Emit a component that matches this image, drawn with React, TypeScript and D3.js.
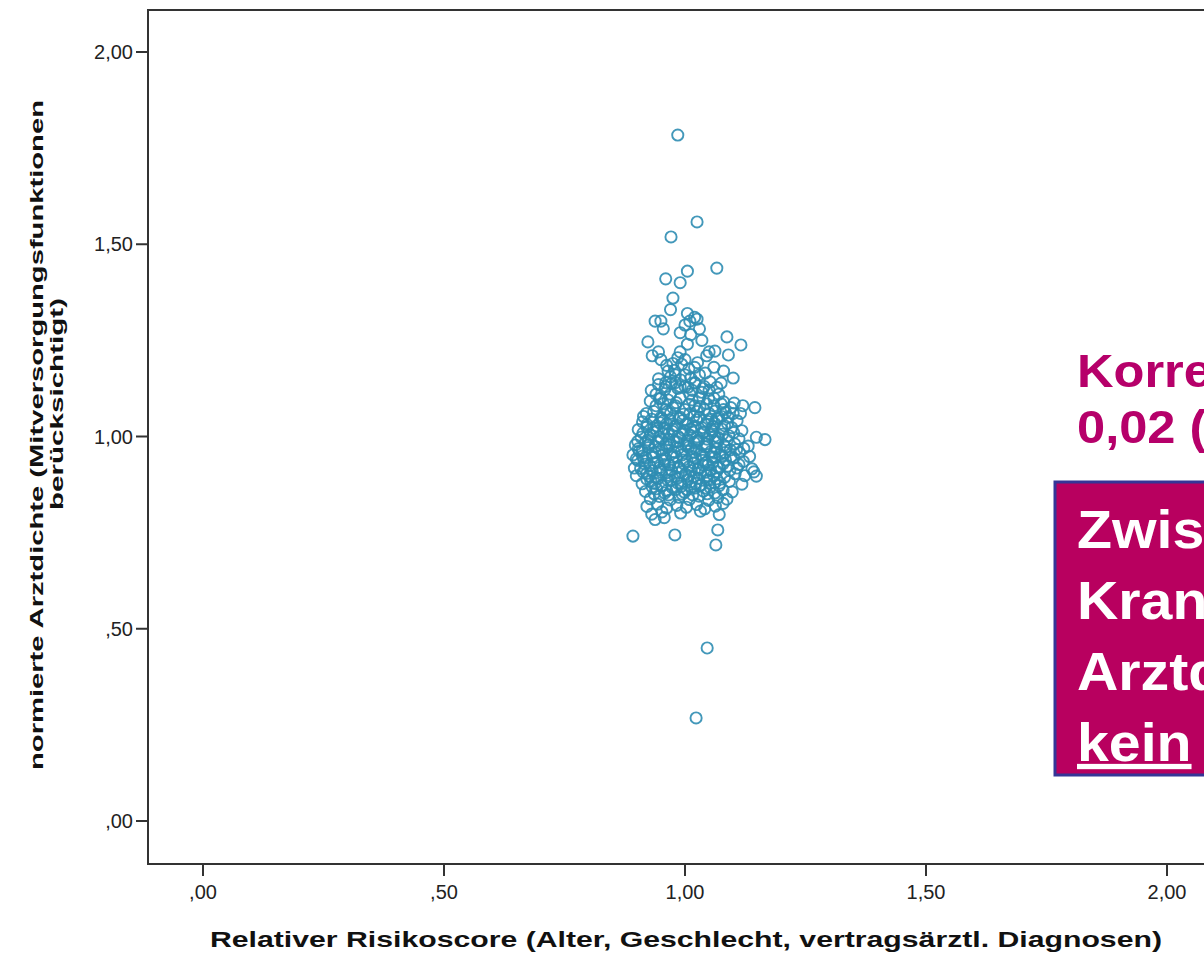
import * as d3 from 'd3';

// x = Relativer Risikoscore, y = normierte Arztdichte
const outliers: [number, number][] = [
  [0.985, 1.784], [1.025, 1.558], [0.971, 1.519], [1.066, 1.438],
  [0.892, 0.741], [0.979, 0.744], [1.064, 0.718], [1.068, 0.757],
  [1.046, 0.45], [1.023, 0.268],
];

const upperTail: [number, number][] = [
  [1.005, 1.43], [0.96, 1.41], [0.99, 1.40], [0.975, 1.36], [0.97, 1.33], [0.95, 1.30],
  [1.005, 1.32], [1.02, 1.31], [1.03, 1.28], [1.087, 1.259], [1.116, 1.238], [1.062, 1.222],
  [0.938, 1.30], [0.923, 1.246], [0.955, 1.28], [0.99, 1.27], [1.0, 1.29], [1.01, 1.30],
  [1.025, 1.305], [1.045, 1.21], [1.09, 1.212], [0.932, 1.21], [0.95, 1.20], [0.945, 1.22],
  [0.99, 1.22], [1.005, 1.24], [1.035, 1.25], [1.05, 1.22], [1.08, 1.17], [1.10, 1.152],
  [1.075, 1.139], [1.06, 1.18], [0.965, 1.17], [0.98, 1.16], [0.975, 1.19], [1.0, 1.20],
  [1.02, 1.18], [1.03, 1.16], [0.945, 1.15], [0.96, 1.14], [1.0, 1.16], [0.99, 1.13],
  [1.015, 1.12], [0.985, 1.205], [1.012, 1.265],
];

const middleBand: [number, number][] = [
  [0.93, 1.12], [0.95, 1.10], [0.97, 1.11], [0.99, 1.10], [1.01, 1.11], [1.03, 1.10],
  [1.05, 1.12], [1.07, 1.11], [0.94, 1.08], [0.96, 1.07], [0.98, 1.08], [1.00, 1.07],
  [1.02, 1.08], [1.04, 1.07], [1.06, 1.08], [1.08, 1.07], [1.10, 1.06], [0.92, 1.06],
  [0.95, 1.05], [0.97, 1.06], [0.99, 1.05], [1.01, 1.06], [1.03, 1.05], [1.05, 1.06],
  [1.07, 1.05], [1.09, 1.05], [0.96, 1.13], [0.98, 1.14], [1.00, 1.13], [1.02, 1.14],
  [1.04, 1.13], [0.94, 1.11], [1.06, 1.10], [1.08, 1.09], [0.985, 1.125], [1.015, 1.095],
  [0.965, 1.095], [1.035, 1.115], [0.955, 1.085], [1.045, 1.085], [1.075, 1.085],
  [1.095, 1.075], [0.935, 1.065], [0.975, 1.075], [1.025, 1.065], [1.055, 1.045],
  [1.115, 1.06], [1.12, 1.08], [1.145, 1.075],
];

const coreRows: [number, number][] = [
  [0.912, 1.038], [0.931, 1.045], [0.948, 1.036], [0.969, 1.042], [0.987, 1.047], [1.006, 1.035],
  [1.024, 1.043], [1.047, 1.039], [1.066, 1.046], [1.088, 1.034], [1.108, 1.041],
  [0.903, 1.018], [0.921, 1.025], [0.942, 1.014], [0.958, 1.022], [0.979, 1.027], [0.998, 1.016],
  [1.017, 1.024], [1.039, 1.012], [1.058, 1.026], [1.077, 1.019], [1.097, 1.023], [1.118, 1.015],
  [0.909, 0.998], [0.928, 1.004], [0.951, 0.993], [0.966, 1.007], [0.989, 0.996], [1.011, 1.003],
  [1.028, 0.991], [1.052, 1.005], [1.069, 0.997], [1.091, 1.002], [1.112, 0.994], [1.148, 0.998],
  [1.166, 0.992],
  [0.897, 0.978], [0.918, 0.985], [0.938, 0.974], [0.961, 0.982], [0.977, 0.987], [1.002, 0.976],
  [1.019, 0.984], [1.041, 0.973], [1.063, 0.986], [1.081, 0.977], [1.103, 0.981], [1.131, 0.975],
  [0.892, 0.952], [0.911, 0.963], [0.932, 0.957], [0.952, 0.966], [0.971, 0.954], [0.993, 0.962],
  [1.013, 0.968], [1.031, 0.955], [1.054, 0.961], [1.072, 0.953], [1.094, 0.965], [1.113, 0.958],
  [0.902, 0.938], [0.919, 0.945], [0.943, 0.934], [0.959, 0.942], [0.982, 0.947], [1.004, 0.936],
  [1.022, 0.943], [1.043, 0.932], [1.061, 0.946], [1.084, 0.939], [1.101, 0.944], [1.121, 0.935],
  [0.908, 0.917], [0.927, 0.924], [0.949, 0.913], [0.968, 0.926], [0.988, 0.918], [1.009, 0.922],
  [1.027, 0.914], [1.048, 0.927], [1.071, 0.919], [1.089, 0.923], [1.139, 0.916],
  [0.899, 0.898], [0.921, 0.904], [0.939, 0.893], [0.962, 0.906], [0.979, 0.897], [1.001, 0.902],
  [1.018, 0.895], [1.042, 0.907], [1.059, 0.899], [1.082, 0.894], [1.104, 0.903], [1.148, 0.897],
  [0.911, 0.877], [0.929, 0.884], [0.953, 0.873], [0.971, 0.886], [0.991, 0.878], [1.012, 0.882],
  [1.033, 0.874], [1.051, 0.887], [1.073, 0.879], [1.092, 0.883], [1.118, 0.876],
  [0.918, 0.857], [0.941, 0.864], [0.958, 0.853], [0.981, 0.862], [0.999, 0.855], [1.021, 0.866],
  [1.038, 0.858], [1.062, 0.853], [1.079, 0.861], [1.098, 0.856],
  [0.928, 0.838], [0.947, 0.844], [0.969, 0.835], [0.988, 0.842], [1.009, 0.836], [1.029, 0.845],
  [1.049, 0.834], [1.068, 0.841], [1.087, 0.837],
  [0.921, 0.818], [0.943, 0.824], [0.962, 0.814], [0.983, 0.821], [1.003, 0.816], [1.024, 0.823],
  [1.041, 0.812], [1.063, 0.819], [1.079, 0.826],
  [0.931, 0.798], [0.952, 0.804], [0.991, 0.801], [1.032, 0.806], [1.071, 0.797],
  [0.938, 0.784], [0.957, 0.789],
];

const coreFill: [number, number][] = [
  [0.921, 1.031], [0.941, 1.028], [0.962, 1.033], [0.983, 1.029], [1.002, 1.032], [1.021, 1.027],
  [1.043, 1.031], [1.062, 1.034], [1.082, 1.028],
  [0.913, 1.009], [0.934, 1.012], [0.956, 1.008], [0.974, 1.013], [0.995, 1.007], [1.016, 1.011],
  [1.037, 1.009], [1.057, 1.013], [1.078, 1.006], [1.101, 1.01],
  [0.902, 0.987], [0.923, 0.991], [0.944, 0.988], [0.966, 0.992], [0.984, 0.986], [1.006, 0.99],
  [1.027, 0.988], [1.046, 0.993], [1.068, 0.987], [1.088, 0.991],
  [0.903, 0.968], [0.924, 0.971], [0.946, 0.967], [0.963, 0.973], [0.986, 0.969], [1.007, 0.972],
  [1.024, 0.966], [1.045, 0.974], [1.066, 0.968], [1.085, 0.972], [1.122, 0.969],
  [0.912, 0.949], [0.933, 0.947], [0.953, 0.951], [0.975, 0.946], [0.994, 0.952], [1.014, 0.948],
  [1.036, 0.951], [1.056, 0.947], [1.077, 0.95], [1.096, 0.948],
  [0.917, 0.928], [0.936, 0.931], [0.957, 0.927], [0.977, 0.932], [0.998, 0.929], [1.018, 0.931],
  [1.038, 0.926], [1.058, 0.932], [1.079, 0.929], [1.112, 0.927],
  [0.913, 0.908], [0.932, 0.911], [0.951, 0.907], [0.972, 0.912], [0.993, 0.908], [1.013, 0.911],
  [1.033, 0.906], [1.053, 0.912], [1.066, 0.909], [1.093, 0.912],
  [0.921, 0.889], [0.944, 0.891], [0.964, 0.887], [0.984, 0.892], [1.006, 0.888], [1.026, 0.891],
  [1.046, 0.887], [1.066, 0.89],
  [0.932, 0.869], [0.951, 0.872], [0.973, 0.868], [0.993, 0.871], [1.013, 0.869], [1.031, 0.872],
  [1.052, 0.868], [1.071, 0.872],
  [0.936, 0.851], [0.966, 0.848], [0.994, 0.85], [1.016, 0.848], [1.046, 0.851],
];

const coreExtra: [number, number][] = [
  [0.962, 1.185], [0.978, 1.172], [0.993, 1.188], [1.008, 1.176], [1.026, 1.192], [0.97, 1.155],
  [1.012, 1.152], [1.042, 1.165],
  [0.945, 1.135], [0.958, 1.122], [0.972, 1.138], [0.991, 1.147], [1.006, 1.128], [1.021, 1.139],
  [1.037, 1.125], [1.052, 1.142], [1.066, 1.128],
  [0.928, 1.092], [0.947, 1.098], [0.963, 1.064], [0.982, 1.088], [0.997, 1.058], [1.008, 1.084],
  [1.031, 1.078], [1.049, 1.098], [1.063, 1.066], [1.084, 1.062], [1.102, 1.087], [0.914, 1.052],
  [0.952, 1.047], [1.018, 1.052], [1.076, 1.052],
  [0.935, 1.022], [0.955, 1.041], [0.975, 1.019], [0.995, 1.041], [1.012, 1.019], [1.035, 1.023],
  [1.055, 1.018], [0.925, 0.979], [0.947, 0.999], [0.968, 0.978], [0.985, 1.001], [1.004, 0.981],
  [1.025, 0.999], [1.044, 0.981], [1.062, 1.001], [0.915, 0.937], [0.938, 0.958], [0.958, 0.937],
  [0.978, 0.959], [0.997, 0.939], [1.019, 0.959], [1.037, 0.938], [1.061, 0.957], [1.083, 0.958],
  [0.926, 0.897], [0.947, 0.919], [0.967, 0.899], [0.986, 0.921], [1.008, 0.898], [1.028, 0.919],
  [1.047, 0.898], [1.067, 0.921], [0.938, 0.878], [0.962, 0.859], [0.985, 0.879], [1.004, 0.862],
  [1.022, 0.878], [1.042, 0.866], [1.061, 0.879], [0.899, 0.942], [0.895, 0.918], [0.905, 0.962],
  [1.108, 0.918], [1.124, 0.898], [1.107, 0.966], [1.134, 0.948], [1.143, 0.908],
];

const xTicks = [0, 0.5, 1, 1.5, 2];
const yTicks = [0, 0.5, 1, 1.5, 2];
const tickLabel = (v: number) => (v < 1 ? d3.format('.2f')(v).replace('0.', ',') : d3.format('.2f')(v).replace('.', ','));

const yTitleLines = ['normierte Arztdichte (Mitversorgungsfunktionen', 'berücksichtigt)'];
const xTitle = 'Relativer Risikoscore (Alter, Geschlecht,  vertragsärztl. Diagnosen)';
const noteLines = ['Korrelation r =', '0,02 (p = 0,67)'];
const boxLines = ['Zwischen', 'Krankheitslast und', 'Arztdichte besteht'];
const boxLast = ['kein', ' Zusammenhang'];

export default function App() {
  const width = 1204;
  const height = 953;
  const frame = { left: 148, top: 10, bottom: 864, right: 1240 };

  const x = d3.scaleLinear().domain([0, 2]).range([203, 1167]);
  const y = d3.scaleLinear().domain([0, 2]).range([821, 52]);

  const points = [...coreRows, ...coreFill, ...coreExtra, ...middleBand, ...upperTail, ...outliers];
  const font = 'Arial, "Liberation Sans", Helvetica, sans-serif';
  const magenta = '#b6006a';

  return (
    <svg width={width} height={height} style={{ position: 'absolute', left: 0, top: 0, background: '#fff' }} fontFamily={font}>
      {/* plot frame */}
      <path
        d={`M${frame.right},${frame.top}H${frame.left}V${frame.bottom}H${frame.right}`}
        fill="none"
        stroke="#333"
        strokeWidth={2}
      />
      {yTicks.map((t) => (
        <g key={`y${t}`}>
          <line x1={frame.left - 12} x2={frame.left} y1={y(t)} y2={y(t)} stroke="#333" strokeWidth={2} />
          <text x={frame.left - 15} y={y(t) + 7} textAnchor="end" fontSize={20} fill="#222">
            {tickLabel(t)}
          </text>
        </g>
      ))}
      {xTicks.map((t) => (
        <g key={`x${t}`}>
          <line x1={x(t)} x2={x(t)} y1={frame.bottom} y2={frame.bottom + 12} stroke="#333" strokeWidth={2} />
          <text x={x(t)} y={frame.bottom + 35} textAnchor="middle" fontSize={20} fill="#222">
            {tickLabel(t)}
          </text>
        </g>
      ))}

      {points.map(([px, py], i) => (
        <circle key={i} cx={x(px)} cy={y(py)} r={5.6} fill="none" stroke="#2f8db3" strokeWidth={1.9} strokeOpacity={0.9} />
      ))}

      {/* axis titles */}
      <text x={210} y={947} fontSize={22} fontWeight="bold" fill="#111" textLength={952} lengthAdjust="spacingAndGlyphs">
        {xTitle}
      </text>
      <text transform="translate(43,770) rotate(-90)" fontSize={19} fontWeight="bold" fill="#111" textLength={670} lengthAdjust="spacingAndGlyphs">
        {yTitleLines[0]}
      </text>
      <text transform="translate(63,510) rotate(-90)" fontSize={19} fontWeight="bold" fill="#111" textLength={212} lengthAdjust="spacingAndGlyphs">
        {yTitleLines[1]}
      </text>

      {/* annotation, slightly stretched horizontally like the slide */}
      <g transform="translate(1077,0) scale(1.1,1) translate(-1077,0)">
        {noteLines.map((line, i) => (
          <text key={line} x={1077} y={387 + i * 56} fontSize={46} fontWeight="bold" fill={magenta}>
            {line}
          </text>
        ))}
      </g>
      <rect x={1055} y={482} width={260} height={293} fill="#b8005f" stroke="#353597" strokeWidth={3} />
      <g transform="translate(1077,0) scale(1.08,1) translate(-1077,0)">
        {boxLines.map((line, i) => (
          <text key={line} x={1077} y={548 + i * 71} fontSize={53} fontWeight="bold" fill="#fff">
            {line}
          </text>
        ))}
        <text x={1077} y={761} fontSize={53} fontWeight="bold" fill="#fff">
          <tspan textDecoration="underline">{boxLast[0]}</tspan>
          <tspan>{boxLast[1]}</tspan>
        </text>
      </g>
    </svg>
  );
}
